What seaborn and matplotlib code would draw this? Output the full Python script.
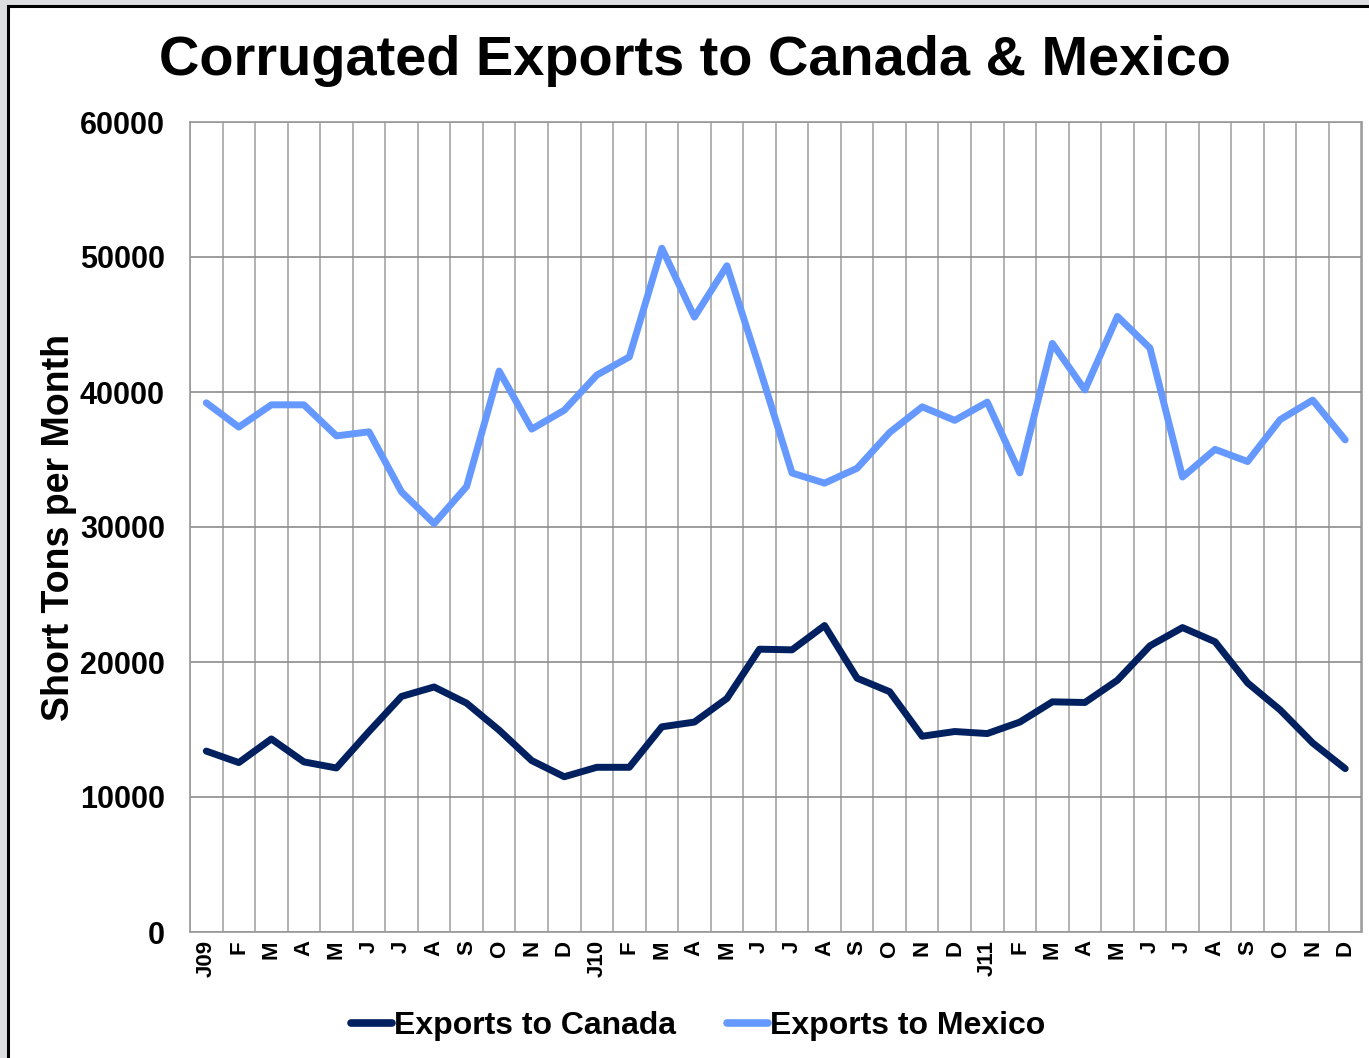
import numpy as np
import pandas as pd
import matplotlib
matplotlib.use('Agg')
import matplotlib.pyplot as plt
import seaborn as sns
from matplotlib.patches import Rectangle

# month labels, Jan 2009 .. Dec 2011
months = ['J09', 'F', 'M', 'A', 'M', 'J', 'J', 'A', 'S', 'O', 'N', 'D',
          'J10', 'F', 'M', 'A', 'M', 'J', 'J', 'A', 'S', 'O', 'N', 'D',
          'J11', 'F', 'M', 'A', 'M', 'J', 'J', 'A', 'S', 'O', 'N', 'D']

canada = [13400, 12550, 14300, 12600, 12150, 14850, 17450, 18150, 16950, 14950, 12700, 11500,
          12200, 12200, 15200, 15550, 17300, 20950, 20900, 22700, 18800, 17800, 14500, 14850,
          14700, 15550, 17050, 17000, 18650, 21200, 22550, 21500, 18450, 16450, 14000, 12100]

mexico = [39200, 37400, 39050, 39050, 36750, 37050, 32600, 30250, 33000, 41550, 37250, 38650,
          41250, 42600, 50650, 45550, 49350, 41800, 34000, 33250, 34350, 37000, 38900, 37900,
          39250, 34000, 43600, 40150, 45600, 43250, 33700, 35750, 34850, 37950, 39400, 36450]

yticks = [0, 10000, 20000, 30000, 40000, 50000, 60000]

df = pd.DataFrame({
    'idx': list(range(len(months))) * 2,
    'tons': canada + mexico,
    'series': ['Exports to Canada'] * len(canada) + ['Exports to Mexico'] * len(mexico),
})

sns.set_style('white')
plt.rcParams['font.family'] = ['Liberation Sans', 'DejaVu Sans']
plt.rcParams['text.color'] = 'black'
plt.rcParams['xtick.color'] = 'black'
plt.rcParams['ytick.color'] = 'black'
plt.rcParams['axes.labelcolor'] = 'black'

fig = plt.figure(figsize=(13.69, 10.58), dpi=100)
fig.patch.set_facecolor('#dcdddf')
# white chart area with black border (runs past the right/bottom edges)
frame = Rectangle((8 / 1369, -0.05), 1.1, 1 - 6 / 1058 + 0.05,
                  transform=fig.transFigure, facecolor='white',
                  edgecolor='black', linewidth=2.2, zorder=-10)
fig.add_artist(frame)

ax = fig.add_axes([190 / 1369, 1 - 932 / 1058, (1361.5 - 190) / 1369, (932 - 122) / 1058])
ax.set_facecolor('none')

sns.lineplot(data=df, x='idx', y='tons', hue='series',
             palette=['#002060', '#6699ff'], linewidth=5, ax=ax,
             legend=False, zorder=3)

ax.set_xlim(-0.5, len(months) - 0.5)
ax.set_ylim(0, 60000)

ax.set_xticks(range(len(months)))
ax.set_xticklabels(months, rotation=90, fontsize=16, fontweight='bold')
ax.set_xticks(np.arange(-0.5, len(months), 1.0), minor=True)
ax.tick_params(axis='x', which='major', length=0, pad=6)
ax.tick_params(axis='x', which='minor', length=6, color='#999999', width=1.2, direction='out')

ax.set_yticks(yticks)
ax.set_yticklabels([str(v) for v in yticks], fontsize=22, fontweight='bold')
ax.tick_params(axis='y', length=8, color='#999999', width=1.2, direction='out', pad=10)

ax.grid(True, axis='y', which='major', color='#8c8c8c', linewidth=1.2)
ax.grid(True, axis='x', which='minor', color='#a6a6a6', linewidth=1.2)
ax.grid(False, axis='x', which='major')
ax.set_axisbelow(True)

for side in ['left', 'bottom', 'top', 'right']:
    ax.spines[side].set_color('#999999')
    ax.spines[side].set_linewidth(1.2)

ax.set_xlabel('')
ax.set_ylabel('Short Tons per Month', fontsize=27, fontweight='bold')
ax.yaxis.set_label_coords(-0.0965, 0.5)

fig.text(695 / 1369, 1 - 61 / 1058, 'Corrugated Exports to Canada & Mexico',
         ha='center', va='center', fontsize=40.3, fontweight='bold', color='black')

handles = [plt.Line2D([], [], color='#002060', linewidth=5.5, solid_capstyle='round'),
           plt.Line2D([], [], color='#6699ff', linewidth=5.5, solid_capstyle='round')]
leg = fig.legend(handles, ['Exports to Canada', 'Exports to Mexico'],
                 loc='center', bbox_to_anchor=(698 / 1369, 1 - 1026 / 1058), ncol=2,
                 frameon=False, handlelength=1.3, handletextpad=0.05, columnspacing=1.6,
                 prop={'size': 23, 'weight': 'bold'})

fig.savefig('out.png', dpi=100, facecolor=fig.get_facecolor())
